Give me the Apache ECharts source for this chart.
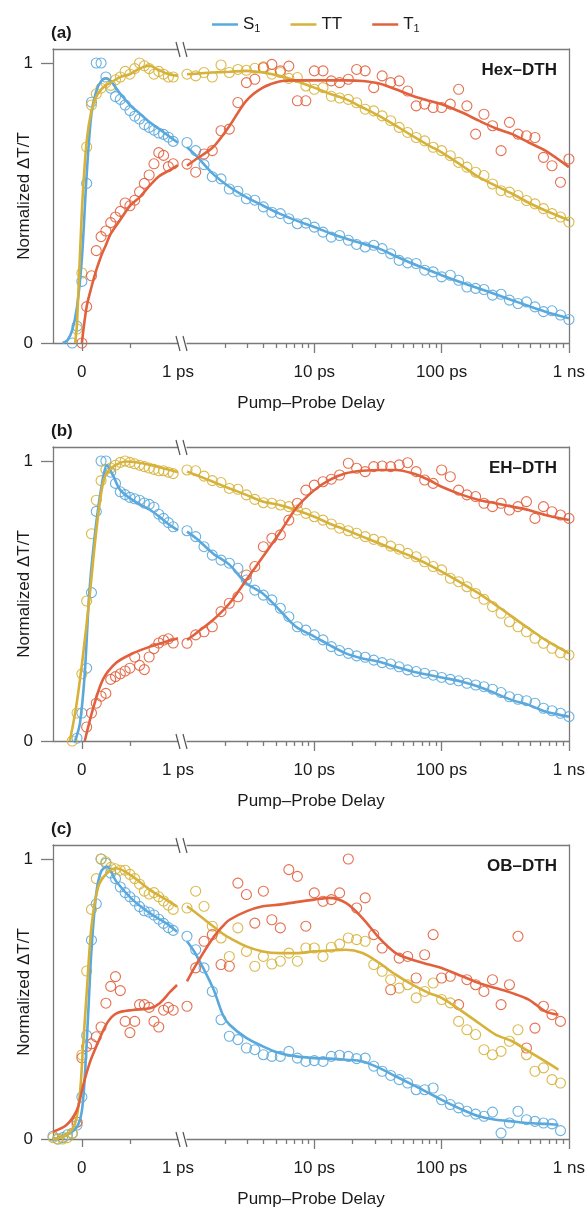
<!DOCTYPE html>
<html><head><meta charset="utf-8">
<script src="https://cdn.jsdelivr.net/npm/echarts@6/dist/echarts.min.js"></script>
<style>html,body{margin:0;padding:0;background:#fff}#c{width:588px;height:1211px}</style>
</head><body><div id="c"></div><script>
// ---------- shared time axes (ps) ----------
const tLeft=[-0.3,-0.25,-0.2,-0.15,-0.1,-0.05,0,0.05,0.1,0.15,0.2,0.25,0.3,0.35,0.4,0.45,0.5,0.55,0.6,0.65,0.7,0.75,0.8,0.85,0.9,0.95];
const tRight=[1,1.17,1.36,1.58,1.85,2.15,2.51,2.93,3.41,3.98,4.64,5.41,6.31,7.36,8.58,10,11.7,13.6,15.8,18.5,21.5,25.1,29.3,34.1,39.8,46.4,54.1,63.1,73.6,85.8,100,117,136,158,185,215,251,293,341,398,464,541,631,736,858,1000];
const fitTR=[1,1.18,1.6,2.16,2.92,3.94,5.32,7.18,10,13.1,17.7,23.9,32.3,43.6,58.9,79.6,100,145,196,265,358,483,653,1000];
const fitTRc=[1,1.18,1.6,1.91,2.16,2.92,3.94,5.32,7.18,10,13.1,17.7,23.9,32.3,43.6,58.9,79.6,100,145,196,265,358,483,653,827];
const leftTickLabels=[0,1];
const leftMinorTicks=[0.5];
const rightTickLabels=[10,100,1000];
const rightMinorTicks=[2,3,4,5,6,7,8,9,20,30,40,50,60,70,80,90,200,300,400,500,600,700,800,900];
const yTicks=[0,1];
const seriesNames=['S1','TT','T1'];
const panelLabels=['(a)','(b)','(c)'];
const panelNames=['Hex\u2013DTH','EH\u2013DTH','OB\u2013DTH'];

// ---------- panel (a) Hex-DTH ----------
const aS1L=[null,null,null,null,0.0,0.06,0.22,0.57,0.86,1.0,1.0,0.95,0.91,0.88,0.87,0.85,0.83,0.81,0.80,0.78,0.77,0.76,0.75,0.745,0.735,0.72];
const aTTL=[null,null,null,null,null,0.05,0.25,0.70,0.85,0.89,0.91,0.93,0.92,0.94,0.95,0.97,0.96,0.98,1.0,0.99,0.98,0.96,0.97,0.96,0.95,0.95];
const aT1L=[null,null,null,null,null,null,0.0,0.13,0.24,0.33,0.38,0.40,0.43,0.45,0.47,0.50,0.49,0.51,0.54,0.57,0.60,0.64,0.68,0.67,0.63,0.64];
const aS1R=[0.716,0.687,0.637,0.594,0.586,0.550,0.542,0.515,0.510,0.486,0.467,0.462,0.444,0.426,0.428,0.414,0.396,0.378,0.384,0.367,0.352,0.343,0.349,0.337,0.319,0.295,0.286,0.284,0.260,0.254,0.236,0.242,0.224,0.200,0.195,0.191,0.171,0.174,0.153,0.141,0.147,0.129,0.112,0.115,0.100,0.084];
const aTTR=[0.960,0.954,0.966,0.950,0.993,0.966,0.977,0.974,0.981,0.986,0.960,0.966,0.945,0.948,0.918,0.906,0.912,0.881,0.875,0.870,0.858,0.835,0.829,0.811,0.794,0.770,0.752,0.734,0.722,0.699,0.687,0.669,0.645,0.628,0.610,0.598,0.568,0.544,0.539,0.527,0.509,0.497,0.480,0.462,0.450,0.432];
const aT1R=[0.639,0.610,0.675,0.687,0.758,0.764,0.859,0.930,0.942,0.983,0.995,0.972,0.989,0.865,0.865,0.972,0.972,0.936,0.930,0.942,0.977,0.972,0.912,0.954,0.930,0.936,0.900,0.847,0.853,0.841,0.841,0.853,0.906,0.847,0.746,0.817,0.776,0.687,0.788,0.746,0.740,0.734,0.663,0.633,0.574,0.657];
const aS1FitL=[[-0.2,0],[-0.15,0.01],[-0.1,0.046],[-0.05,0.13],[0,0.3],[0.05,0.6],[0.1,0.82],[0.15,0.90],[0.2,0.935],[0.25,0.945],[0.3,0.935],[0.4,0.89],[0.5,0.85],[0.6,0.82],[0.7,0.79],[0.8,0.765],[0.9,0.74],[1,0.715]];
const aTTFitL=[[-0.07,0],[-0.05,0.07],[0,0.47],[0.05,0.72],[0.1,0.83],[0.15,0.88],[0.2,0.905],[0.25,0.92],[0.3,0.93],[0.4,0.95],[0.5,0.96],[0.6,0.98],[0.7,0.99],[0.8,0.975],[0.9,0.96],[1,0.955]];
const aT1FitL=[[0,0],[0.05,0.13],[0.1,0.2],[0.15,0.26],[0.2,0.31],[0.25,0.35],[0.3,0.39],[0.4,0.44],[0.5,0.49],[0.6,0.52],[0.7,0.56],[0.8,0.595],[0.9,0.615],[1,0.635]];
const aS1FitR=[0.699,0.669,0.604,0.557,0.521,0.491,0.462,0.438,0.414,0.393,0.373,0.355,0.337,0.310,0.284,0.260,0.242,0.215,0.195,0.174,0.153,0.132,0.112,0.088];
const aTTFitR=[0.960,0.962,0.966,0.969,0.972,0.966,0.954,0.936,0.912,0.891,0.871,0.841,0.811,0.776,0.740,0.705,0.681,0.633,0.592,0.562,0.533,0.501,0.473,0.438];
const aT1FitR=[0.633,0.657,0.699,0.776,0.865,0.912,0.934,0.938,0.938,0.938,0.938,0.936,0.927,0.906,0.883,0.865,0.853,0.823,0.794,0.767,0.746,0.716,0.687,0.628];

// ---------- panel (b) EH-DTH ----------
const bS1L=[null,null,null,null,null,0.01,0.10,0.26,0.53,0.82,1.0,1.0,0.96,0.92,0.89,0.88,0.87,0.865,0.86,0.85,0.845,0.835,0.81,0.795,0.78,0.765];
const bTTL=[null,null,null,null,0.0,0.10,0.24,0.50,0.74,0.86,0.93,0.97,0.975,0.985,0.995,1.0,0.995,0.99,0.985,0.98,0.975,0.97,0.965,0.965,0.96,0.955];
const bT1L=[null,null,null,null,null,null,null,0.05,0.10,0.135,0.16,0.17,0.22,0.23,0.24,0.25,0.26,0.30,0.27,0.255,0.30,0.33,0.35,0.36,0.365,0.35];
const bS1R=[0.751,0.730,0.694,0.664,0.646,0.635,0.617,0.575,0.539,0.521,0.504,0.474,0.444,0.408,0.396,0.379,0.361,0.337,0.323,0.313,0.304,0.299,0.289,0.280,0.275,0.265,0.254,0.248,0.242,0.235,0.227,0.220,0.215,0.206,0.200,0.194,0.185,0.173,0.158,0.149,0.144,0.135,0.117,0.108,0.099,0.087];
const bTTR=[0.968,0.965,0.946,0.930,0.923,0.902,0.899,0.879,0.863,0.851,0.849,0.843,0.837,0.825,0.813,0.801,0.789,0.775,0.760,0.751,0.742,0.730,0.720,0.712,0.696,0.685,0.670,0.658,0.640,0.623,0.611,0.581,0.569,0.551,0.527,0.506,0.480,0.456,0.426,0.408,0.390,0.367,0.349,0.331,0.315,0.307];
const bT1R=[0.349,0.379,0.390,0.408,0.462,0.492,0.515,0.593,0.623,0.694,0.724,0.736,0.789,0.849,0.896,0.914,0.926,0.935,0.950,0.992,0.974,0.962,0.980,0.982,0.980,0.986,0.994,0.962,0.932,0.920,0.968,0.944,0.896,0.879,0.873,0.849,0.837,0.849,0.825,0.837,0.855,0.795,0.837,0.819,0.807,0.795];
const bS1FitL=[[-0.07,0],[-0.02,0.063],[0.03,0.24],[0.08,0.54],[0.15,0.78],[0.22,0.94],[0.26,0.985],[0.33,0.944],[0.4,0.896],[0.53,0.86],[0.71,0.825],[0.81,0.80],[0.9,0.775],[1,0.752]];
const bTTFitL=[[-0.125,0],[-0.06,0.12],[0.01,0.30],[0.08,0.515],[0.15,0.75],[0.22,0.92],[0.29,0.97],[0.46,0.998],[0.71,0.986],[1,0.96]];
const bT1FitL=[[0.03,0],[0.12,0.12],[0.22,0.22],[0.36,0.28],[0.53,0.313],[0.71,0.337],[0.88,0.355],[1,0.367]];
const bS1FitR=[0.748,0.724,0.670,0.629,0.563,0.527,0.468,0.408,0.373,0.343,0.313,0.295,0.283,0.265,0.248,0.236,0.227,0.212,0.194,0.170,0.146,0.129,0.105,0.087];
const bTTFitR=[0.962,0.950,0.926,0.902,0.879,0.855,0.843,0.825,0.801,0.777,0.754,0.730,0.706,0.682,0.658,0.629,0.605,0.563,0.527,0.486,0.444,0.402,0.361,0.313];
const bT1FitR=[0.361,0.385,0.432,0.492,0.575,0.658,0.742,0.831,0.896,0.932,0.956,0.965,0.968,0.968,0.956,0.932,0.908,0.879,0.861,0.849,0.837,0.825,0.807,0.789];

// ---------- panel (c) OB-DTH ----------
const cS1L=[0.01,0.0,0.005,0.015,0.02,0.05,0.15,0.37,0.71,0.84,1.0,0.985,0.95,0.93,0.90,0.88,0.865,0.85,0.83,0.815,0.81,0.80,0.785,0.77,0.755,0.745];
const cTTL=[0.005,0.0,0.0,0.005,0.02,0.06,0.30,0.60,0.82,0.93,1.0,0.99,0.97,0.965,0.96,0.96,0.945,0.93,0.91,0.885,0.875,0.88,0.865,0.85,0.835,0.82];
const cT1L=[null,null,null,null,null,0.06,0.29,0.33,0.34,0.365,0.40,0.485,0.545,0.58,0.53,0.42,0.38,0.42,0.48,0.48,0.47,0.42,0.40,0.46,0.47,0.46];
const cS1R=[0.724,0.676,0.611,0.527,0.426,0.367,0.355,0.325,0.319,0.301,0.295,0.295,0.313,0.289,0.277,0.280,0.277,0.295,0.299,0.295,0.287,0.289,0.260,0.242,0.227,0.212,0.200,0.176,0.176,0.182,0.140,0.123,0.111,0.099,0.089,0.081,0.096,0.021,0.057,0.099,0.069,0.063,0.057,0.054,0.030,null];
const cTTR=[0.825,0.885,0.831,0.760,0.718,0.652,0.754,0.670,0.617,0.652,0.625,0.635,0.664,0.635,0.682,0.682,0.652,0.685,0.696,0.718,0.712,0.706,0.623,0.599,0.569,0.539,0.551,0.504,0.527,0.557,0.498,0.486,0.420,0.390,0.373,0.319,0.301,0.313,0.349,0.390,0.301,0.242,0.254,0.212,0.200,null];
const cT1R=[0.474,0.611,0.706,0.730,0.623,0.617,0.914,0.873,0.771,0.885,0.783,0.754,0.962,0.938,0.760,0.879,0.849,0.855,0.879,1.0,0.825,0.861,0.730,0.682,0.533,0.646,0.652,0.575,0.658,0.730,0.575,0.581,0.480,0.569,0.551,0.527,0.569,0.480,0.551,0.724,0.325,0.396,0.474,0.444,0.420,null];
const cS1FitL=[[-0.3,0],[-0.16,0.014],[-0.05,0.044],[0,0.10],[0.03,0.22],[0.065,0.44],[0.1,0.675],[0.15,0.877],[0.2,0.955],[0.26,0.973],[0.36,0.919],[0.53,0.854],[0.71,0.806],[0.88,0.77],[0.99,0.74]];
const cTTFitL=[[-0.3,0],[-0.16,0.014],[-0.07,0.056],[-0.02,0.163],[0.01,0.318],[0.05,0.52],[0.1,0.758],[0.17,0.90],[0.26,0.949],[0.36,0.967],[0.53,0.937],[0.71,0.889],[0.88,0.854],[0.99,0.83]];
const cT1FitL=[[-0.3,0.026],[-0.16,0.05],[-0.05,0.104],[0.01,0.187],[0.08,0.27],[0.15,0.33],[0.26,0.413],[0.36,0.449],[0.53,0.461],[0.71,0.467],[0.81,0.485],[0.92,0.526],[0.99,0.55]];
const cS1FitR=[0.706,0.658,0.539,0.444,0.408,0.361,0.331,0.307,0.295,0.289,0.287,0.283,0.277,0.254,0.224,0.194,0.164,0.140,0.105,0.081,0.069,0.063,0.057,0.054,0.051];
const cTTFitR=[0.831,0.807,0.760,0.733,0.718,0.688,0.670,0.664,0.664,0.670,0.673,0.676,0.664,0.629,0.587,0.551,0.521,0.504,0.456,0.414,0.373,0.349,0.313,0.277,0.248];
const cT1FitR=[0.563,0.623,0.718,0.760,0.783,0.813,0.831,0.837,0.846,0.855,0.861,0.843,0.789,0.718,0.664,0.640,0.623,0.611,0.581,0.557,0.539,0.521,0.498,0.456,0.444];

// ---------- layout & style ----------
const FONT='"Liberation Sans", Arial, Helvetica, sans-serif';
const AX='#7a7a7a', TXT='#1a1a1a';
const COLORS={S1:'#5aa8dc',TT:'#d6b23a',T1:'#e2613d'};
const H=294, LEFT=53, LW=125, RL=187, RR=18;
const panels=[
  {top:49, fitT:fitTR, S1:[aS1L,aS1R,aS1FitL,aS1FitR], TT:[aTTL,aTTR,aTTFitL,aTTFitR], T1:[aT1L,aT1R,aT1FitL,aT1FitR]},
  {top:447, fitT:fitTR, S1:[bS1L,bS1R,bS1FitL,bS1FitR], TT:[bTTL,bTTR,bTTFitL,bTTFitR], T1:[bT1L,bT1R,bT1FitL,bT1FitR]},
  {top:845, fitT:fitTRc, S1:[cS1L,cS1R,cS1FitL,cS1FitR], TT:[cTTL,cTTR,cTTFitL,cTTFitR], T1:[cT1L,cT1R,cT1FitL,cT1FitR]}
];
const lineS={color:AX,width:1.3};
const lbl={color:TXT,fontSize:17,fontFamily:FONT};
const grids=[],xAxes=[],yAxes=[],series=[],graphics=[];

function scat(name,xi,yi,xs,ys,color){
  const d=[];
  xs.forEach((x,j)=>{ if(ys[j]!=null) d.push([x,ys[j]]); });
  return {type:'scatter',name:name+' data',xAxisIndex:xi,yAxisIndex:yi,data:d,symbol:'circle',symbolSize:10,
    itemStyle:{color:'rgba(255,255,255,0)',borderColor:color,borderWidth:1.1,opacity:0.9},clip:false,z:2,silent:true};
}
function line(name,xi,yi,pairs,color){
  return {type:'line',name:name,xAxisIndex:xi,yAxisIndex:yi,data:pairs,showSymbol:false,symbol:'none',smooth:0.3,
    lineStyle:{color:color,width:2.6},itemStyle:{color:color},z:3,silent:true};
}

panels.forEach((p,i)=>{
  grids.push({left:LEFT,top:p.top,width:LW,height:H});
  grids.push({left:RL,top:p.top,right:RR,height:H});
  const gL=2*i,gR=2*i+1,xb=xAxes.length,yb=yAxes.length;
  xAxes.push({gridIndex:gL,type:'value',position:'bottom',min:-0.3,max:1,
    axisLine:{show:true,onZero:false,lineStyle:lineS},
    axisTick:{show:true,customValues:[0],length:8,lineStyle:lineS},
    axisLabel:Object.assign({show:true,customValues:leftTickLabels,margin:21,formatter:v=>v===1?'1 ps':'0'},lbl),
    splitLine:{show:false}});
  xAxes.push({gridIndex:gL,type:'value',position:'bottom',min:-0.3,max:1,
    axisLine:{show:false,onZero:false},axisTick:{show:true,customValues:leftMinorTicks,length:5,lineStyle:lineS},
    axisLabel:{show:false},splitLine:{show:false}});
  xAxes.push({gridIndex:gL,type:'value',position:'top',min:-0.3,max:1,
    axisLine:{show:true,onZero:false,lineStyle:lineS},axisTick:{show:false},axisLabel:{show:false},splitLine:{show:false}});
  xAxes.push({gridIndex:gR,type:'log',logBase:10,position:'bottom',min:1,max:1000,
    axisLine:{show:true,onZero:false,lineStyle:lineS},
    axisTick:{show:true,customValues:rightTickLabels,length:10,lineStyle:lineS},
    axisLabel:Object.assign({show:true,customValues:rightTickLabels,margin:21,
      formatter:v=>{const r=Math.round(v);return r>=1000?'1 ns':r+' ps';}},lbl),
    splitLine:{show:false}});
  xAxes.push({gridIndex:gR,type:'log',logBase:10,position:'bottom',min:1,max:1000,
    axisLine:{show:false,onZero:false},axisTick:{show:true,customValues:rightMinorTicks,length:5,lineStyle:lineS},
    axisLabel:{show:false},splitLine:{show:false}});
  xAxes.push({gridIndex:gR,type:'log',logBase:10,position:'top',min:1,max:1000,
    axisLine:{show:true,onZero:false,lineStyle:lineS},axisTick:{show:false},axisLabel:{show:false},splitLine:{show:false}});
  yAxes.push({gridIndex:gL,type:'value',position:'left',min:0,max:1.05,
    axisLine:{show:true,onZero:false,lineStyle:lineS},
    axisTick:{show:true,customValues:yTicks,length:12,lineStyle:lineS},
    axisLabel:Object.assign({show:true,customValues:yTicks,margin:20},lbl),splitLine:{show:false}});
  yAxes.push({gridIndex:gR,type:'value',position:'right',min:0,max:1.05,
    axisLine:{show:true,onZero:false,lineStyle:lineS},axisTick:{show:false},axisLabel:{show:false},splitLine:{show:false}});

  seriesNames.forEach(k=>{
    const [sl,sr,fl,fr]=p[k];
    series.push(scat(k,xb,yb,tLeft,sl,COLORS[k]));
    series.push(scat(k,xb+3,yb+1,tRight,sr,COLORS[k]));
  });
  seriesNames.forEach(k=>{
    const [sl,sr,fl,fr]=p[k];
    series.push(line(k,xb,yb,fl,COLORS[k]));
    series.push(line(k,xb+3,yb+1,p.fitT.map((t,j)=>[t,fr[j]]),COLORS[k]));
  });

  const bottom=p.top+H;
  graphics.push({type:'text',x:51,y:p.top-16,style:{text:panelLabels[i],font:'bold 17px '+FONT,fill:TXT,align:'left',verticalAlign:'middle'}});
  graphics.push({type:'text',x:557,y:p.top+21,style:{text:panelNames[i],font:'bold 17px '+FONT,fill:TXT,align:'right',verticalAlign:'middle'}});
  graphics.push({type:'text',x:311,y:bottom+60,style:{text:'Pump\u2013Probe Delay',font:'17px '+FONT,fill:TXT,align:'center',verticalAlign:'middle'}});
  graphics.push({type:'text',x:24,y:p.top+H/2,rotation:Math.PI/2,style:{text:'Normalized \u0394T/T',font:'17px '+FONT,fill:TXT,align:'center',verticalAlign:'middle'}});
  [p.top,bottom].forEach(yy=>{
    graphics.push({type:'rect',shape:{x:179,y:yy-2,width:7,height:4},style:{fill:'#fff'},z:100});
    graphics.push({type:'line',shape:{x1:176,y1:yy-7,x2:180,y2:yy+8},style:{stroke:'#555',lineWidth:1.2},z:101});
    graphics.push({type:'line',shape:{x1:183,y1:yy-7,x2:187,y2:yy+8},style:{stroke:'#555',lineWidth:1.2},z:101});
  });
});

const chart=echarts.init(document.getElementById('c'),null,{renderer:'canvas'});
chart.setOption({
  animation:false,
  backgroundColor:'#fff',
  textStyle:{fontFamily:FONT},
  legend:{data:seriesNames,left:207,top:11,icon:'rect',itemWidth:26,itemHeight:2.5,itemGap:30,
    formatter:n=>n==='TT'?'TT':n.charAt(0)+'{sub|'+n.slice(1)+'}',
    textStyle:{fontSize:17,color:TXT,fontFamily:FONT,rich:{sub:{fontSize:11,color:TXT,fontFamily:FONT,padding:[8,0,0,0]}}}},
  grid:grids,xAxis:xAxes,yAxis:yAxes,series:series,graphic:graphics
});
</script></body></html>
